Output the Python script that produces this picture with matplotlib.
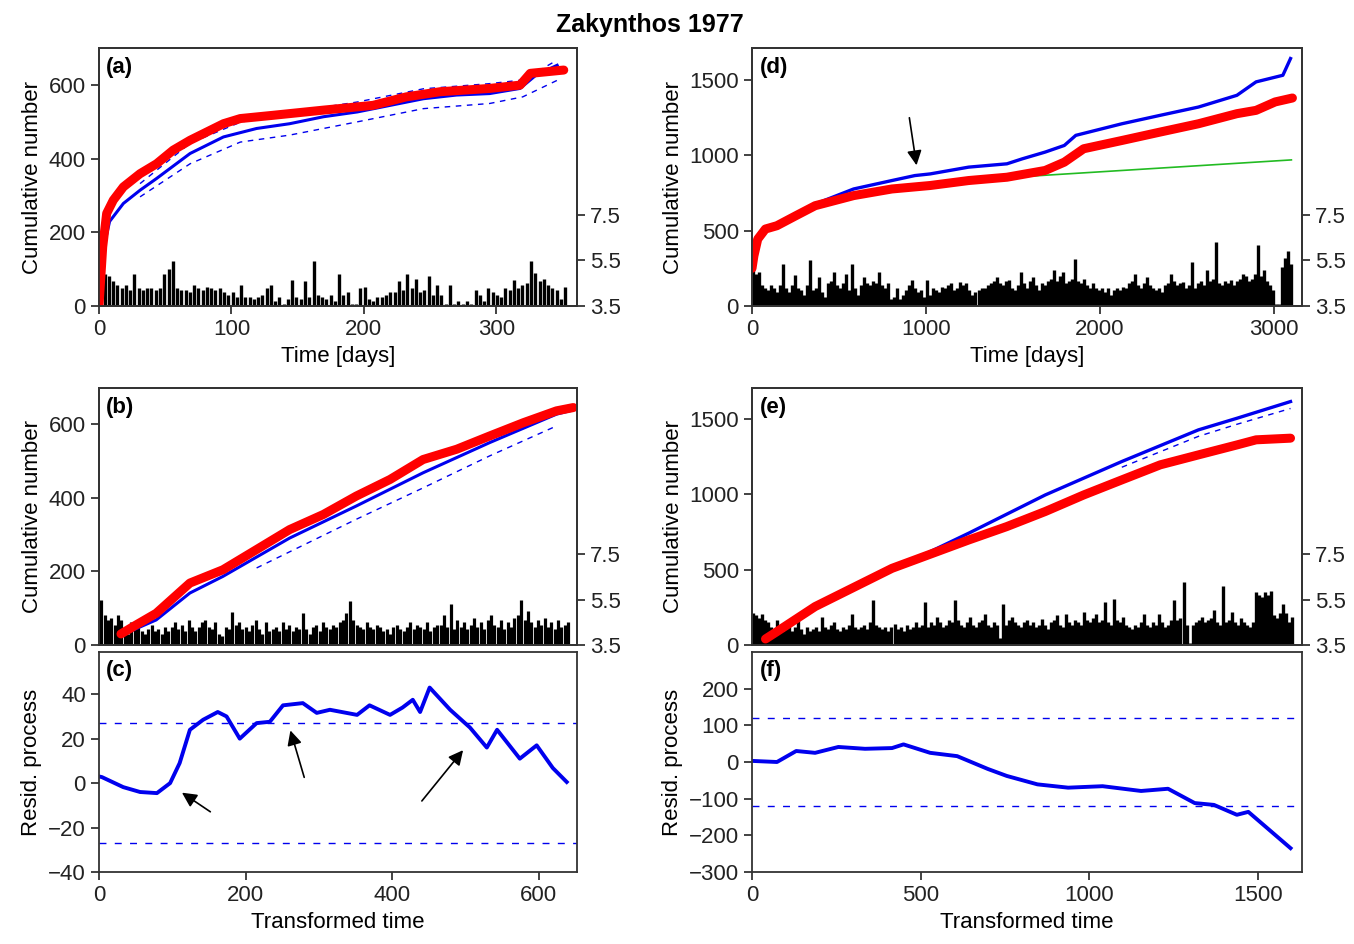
import numpy as np
import matplotlib
matplotlib.use('Agg')
import matplotlib.pyplot as plt

plt.rcParams['font.family'] = ['Liberation Sans', 'DejaVu Sans']
plt.rcParams['font.size'] = 16

# ---- panel (a): cumulative number vs time [days]
a_red_t = [0, 2.8, 5.8, 10.8, 18.4, 31, 43.5, 56, 68.8, 94, 106.7, 131.8, 169.6, 207, 232, 257.6, 295, 318, 325.7, 351]
a_red_n = [0, 161, 252, 288, 324, 360, 387, 424, 451, 496, 510, 519, 533, 546, 569, 583, 592, 601, 633, 642]
a_blue_t = [0, 3, 8, 18.4, 31, 43.5, 68.8, 94, 119, 144, 169.6, 195, 220, 245, 270, 295, 318, 330, 346]
a_blue_n = [0, 150, 230, 279, 315, 347, 415, 460, 483, 496, 515, 528, 546, 564, 574, 578, 592, 628, 655]
a_lo_t = [31, 68.8, 106.7, 144, 195, 245, 295, 320, 346]
a_lo_n = [297, 387, 446, 465, 501, 537, 551, 569, 614]
a_hi_t = [31, 68.8, 106.7, 144, 195, 245, 295, 320, 346]
a_hi_n = [333, 443, 500, 527, 555, 591, 605, 615, 669]
a_mag = [5.0, 4.9, 4.8, 4.6, 4.4, 4.3, 4.4, 4.2, 4.9, 4.3, 4.2, 4.3, 4.3, 4.2, 4.3, 4.9,
         5.1, 5.45, 4.3, 4.2, 4.2, 4.1, 4.4, 4.3, 4.2, 4.35, 4.3, 4.2, 4.3, 4.1, 4.0, 4.1,
         3.9, 4.4, 3.9, 3.9, 3.8, 3.9, 4.0, 4.3, 4.4, 3.7, 3.9, 3.6, 3.8, 4.65, 3.9, 3.8,
         4.6, 3.9, 5.45, 4.0, 3.9, 3.8, 4.0, 3.7, 4.9, 4.0, 4.1, 3.6, 3.6, 4.3, 4.35, 3.8,
         3.7, 3.9, 3.9, 4.0, 4.1, 4.1, 4.6, 4.2, 4.9, 4.3, 4.7, 4.1, 4.2, 4.8, 4.0, 4.4,
         4.0, 3.6, 4.4, 3.6, 3.7, 3.6, 3.7, 3.6, 4.2, 4.0, 3.7, 4.3, 4.1, 4.0, 3.9, 4.3,
         4.2, 4.65, 4.3, 4.4, 4.5, 5.45, 4.95, 4.6, 4.7, 4.4, 4.3, 4.2, 3.8, 4.35]

# ---- panel (b): cumulative number vs transformed time
b_red_t = [30, 46.8, 78, 124, 169, 215, 260, 306, 351, 397, 442, 488, 533, 579, 624, 647]
b_red_n = [30, 50, 86, 168, 204, 259, 313, 354, 404, 449, 503, 531, 567, 603, 635, 644]
b_blue_t = [40, 78, 124, 169, 260, 351, 442, 533, 624, 642]
b_blue_n = [35, 68, 141, 186, 290, 377, 467, 549, 626, 635]
b_lo_t = [215, 351, 442, 533, 624]
b_lo_n = [209, 341, 426, 513, 594]
b_mag = [5.5, 4.8, 4.6, 4.7, 4.4, 4.8, 4.6, 4.3, 4.0, 4.5, 4.2,
         4.3, 4.1, 4.0, 4.2, 4.4, 4.1, 4.2, 4.0, 4.3, 4.1,
         4.3, 4.5, 4.2, 4.4, 4.1, 4.6, 4.3, 4.1, 4.3, 4.5,
         4.6, 4.3, 4.2, 4.5, 4.0, 3.9, 4.3, 4.2, 4.95, 4.4,
         4.5, 4.2, 4.3, 4.1, 4.4, 4.6, 4.2, 4.0, 4.5, 4.1,
         4.2, 4.3, 4.1, 4.5, 4.2, 4.4, 4.1, 4.3, 4.2, 4.9,
         4.2, 4.0, 4.3, 4.4, 4.1, 4.5, 4.3, 4.2, 4.4, 4.3,
         4.5, 4.6, 4.9, 5.45, 4.6, 4.4, 4.3, 4.2, 4.5, 4.3,
         4.2, 4.4, 4.3, 4.1, 4.2, 4.0, 4.3, 4.4, 4.2, 4.1,
         4.3, 4.5, 4.2, 4.4, 4.3, 4.2, 4.5, 4.1, 4.3, 4.4,
         4.4, 4.8, 4.3, 5.3, 4.2, 4.6, 4.3, 4.5, 4.2, 4.4,
         4.7, 4.3, 4.5, 4.2, 4.6, 4.8, 4.4, 4.3, 4.6, 4.2,
         4.5, 4.3, 4.7, 4.8, 5.5, 4.6, 5.0, 4.5, 4.3, 4.6,
         4.4, 4.7, 4.3, 4.5, 4.2, 4.6, 4.3, 4.4, 4.5]

# ---- panel (c): residual process
c_t = [0, 4, 33, 56, 79, 97, 110, 124, 142, 162, 174, 192, 215, 233, 251, 278, 297, 315,
       352, 369, 397, 414, 428, 438, 451, 479, 506, 529, 543, 574, 597, 619, 638]
c_r = [3, 2.7, -1.8, -4, -4.5, 0, 9, 24, 28.5, 32, 30, 20, 27, 27.6, 35, 36, 31.6, 33,
       30.7, 35, 30.7, 34, 37.5, 32, 43, 33, 25, 16, 24, 11, 17, 6.8, 0.5]
c_band = 27

# ---- panel (d): cumulative number vs time [days]
d_red_t = [0, 11, 33, 77, 143, 253, 363, 584, 804, 1024, 1245, 1465, 1685, 1795, 1906,
           2126, 2346, 2566, 2787, 2897, 3007, 3106]
d_red_n = [250, 333, 444, 511, 533, 600, 666, 733, 777, 800, 833, 855, 900, 955, 1044,
           1099, 1155, 1210, 1277, 1299, 1355, 1381]
d_blue_t = [0, 11, 33, 77, 143, 253, 363, 584, 804, 936, 1024, 1245, 1465, 1553, 1685,
            1795, 1861, 2126, 2346, 2566, 2787, 2897, 3051, 3095]
d_blue_n = [250, 333, 444, 511, 533, 600, 677, 777, 833, 866, 877, 922, 944, 977, 1022,
            1066, 1133, 1210, 1266, 1321, 1399, 1488, 1532, 1643]
d_green_t = [1600, 3100]
d_green_n = [862, 970]
d_mag = [5.1, 4.9, 5.0, 4.4, 4.3, 4.2, 4.4, 4.3, 4.1, 4.4, 5.36, 4.3, 4.1, 4.4, 4.85, 4.3,
         4.2, 4.0, 4.4, 5.5, 4.2, 4.3, 4.78, 4.1, 3.9, 4.5, 4.6, 4.99, 4.4, 4.3, 4.5, 4.92,
         4.2, 5.36, 4.3, 4.0, 4.4, 4.78, 4.5, 4.4, 4.6, 4.5, 4.99, 4.4, 4.3, 4.49, 3.8, 3.9,
         4.27, 3.8, 4.0, 4.2, 4.4, 4.63, 4.3, 4.1, 4.2, 3.9, 4.63, 4.0, 4.3, 4.2, 4.1, 4.34,
         4.3, 4.4, 4.5, 4.2, 4.3, 4.56, 4.4, 4.49, 4.2, 4.0, 4.1, 4.2, 4.27, 4.3, 4.4, 4.5,
         4.6, 4.78, 4.5, 4.4, 4.6, 4.63, 4.3, 4.2, 4.4, 4.99, 4.5, 4.3, 4.6, 4.78, 4.4, 4.2,
         4.5, 4.4, 4.6, 4.7, 5.07, 4.6, 4.8, 4.99, 4.5, 4.6, 4.7, 5.57, 4.6, 4.5, 4.7, 4.4,
         4.3, 4.49, 4.3, 4.2, 4.3, 4.1, 4.27, 4.0, 4.2, 4.3, 4.2, 4.34, 4.3, 4.5, 4.6, 4.92,
         4.4, 4.3, 4.5, 4.78, 4.4, 4.27, 4.2, 4.3, 4.1, 4.4, 4.5, 4.92, 4.6, 4.4, 4.5, 4.56,
         4.3, 4.4, 5.43, 4.3, 4.5, 4.6, 4.4, 5.07, 4.6, 4.7, 6.3, 4.5, 4.4, 4.6, 4.5, 4.63,
         4.4, 4.6, 4.7, 4.92, 4.8, 4.6, 4.7, 4.9, 6.15, 4.8, 5.07, 4.6, 4.4, 4.2, 3.6, 3.6,
         5.2, 5.6, 5.93, 5.36]

# ---- panel (e): cumulative number vs transformed time
e_red_t = [40, 74, 187, 415, 642, 755, 869, 983, 1096, 1210, 1323, 1437, 1494, 1596]
e_red_n = [40, 89, 255, 509, 697, 786, 886, 996, 1096, 1196, 1262, 1328, 1362, 1373]
e_blue_t = [40, 74, 187, 415, 642, 869, 1096, 1323, 1437, 1596]
e_blue_n = [35, 77, 255, 498, 742, 996, 1218, 1428, 1505, 1616]
e_lo_t = [1096, 1323, 1437, 1596]
e_lo_n = [1180, 1385, 1465, 1570]
e_mag = [4.9, 4.8, 4.7, 4.88, 4.6, 4.5, 4.3, 4.2, 4.59, 4.3, 4.1, 4.2, 4.4, 4.1, 4.3, 4.65,
         4.2, 4.0, 4.3, 4.1, 4.2, 4.3, 4.1, 4.73, 4.3, 4.2, 4.4, 4.52, 4.2, 4.1, 4.3, 4.2,
         4.4, 4.88, 4.3, 4.2, 4.3, 4.4, 4.2, 4.5, 5.46, 4.4, 4.3, 4.2, 4.3, 4.1, 4.3, 4.44,
         4.2, 4.3, 4.1, 4.4, 4.2, 4.3, 4.5, 4.3, 4.4, 5.38, 4.3, 4.5, 4.4, 4.73, 4.5, 4.3,
         4.4, 4.6, 4.5, 5.46, 4.6, 4.4, 4.3, 4.5, 4.73, 4.4, 4.3, 4.5, 4.6, 4.88, 4.4, 4.3,
         4.5, 4.4, 3.8, 5.31, 4.4, 4.6, 4.73, 4.5, 4.4, 4.3, 4.5, 4.59, 4.4, 4.5, 4.3, 4.4,
         4.65, 4.4, 4.2, 4.5, 4.6, 4.8, 4.4, 4.3, 4.88, 4.5, 4.4, 4.6, 4.5, 4.4, 4.95, 4.6,
         4.5, 4.7, 4.88, 4.5, 4.6, 5.38, 4.5, 4.4, 5.53, 4.6, 4.5, 4.73, 4.4, 4.3, 4.2, 4.4,
         4.3, 4.5, 4.88, 4.4, 4.3, 4.5, 4.4, 4.88, 4.5, 4.3, 4.4, 4.6, 5.46, 4.6, 4.7, 6.25,
         4.4, 3.6, 4.4, 4.5, 4.6, 4.73, 4.5, 4.6, 4.7, 5.02, 4.5, 4.4, 6.1, 4.5, 4.6, 4.95,
         4.5, 4.4, 4.7, 4.5, 4.4, 4.3, 4.5, 5.82, 5.7, 5.6, 5.82, 5.7, 5.89, 4.8, 4.7, 4.9,
         5.31, 4.9, 4.5, 4.73]

# ---- panel (f): residual process
f_t = [0, 74, 131, 187, 256, 335, 415, 449, 528, 608, 699, 755, 846, 937, 1039, 1153,
       1233, 1312, 1369, 1437, 1471, 1596]
f_r = [3, 0, 30, 25, 41, 36, 38, 48, 25, 16, -19, -38, -61, -70, -66, -79, -73, -112,
       -117, -144, -136, -235]
f_band = 120

W, H = 1354, 944
fig = plt.figure(figsize=(W / 100, H / 100), dpi=100)


def box(l, r, t, b):
    return [l / W, 1 - b / H, (r - l) / W, (b - t) / H]


def style(ax):
    for s in ax.spines.values():
        s.set_linewidth(1.3)
        s.set_color('#333333')
    ax.tick_params(direction='out', length=6, width=1.2, labelsize=16, colors='#222222')


def mag_axis(ax, xs, mags, lw):
    ax2 = ax.twinx()
    ax2.vlines(xs, 3.5, mags, color='black', lw=lw)
    ax2.set_ylim(3.5, 14.8)
    ax2.set_yticks([3.5, 5.5, 7.5])
    ax2.set_yticklabels(['3.5', '5.5', '7.5'])
    style(ax2)
    ax.set_zorder(ax2.get_zorder() + 1)
    ax.patch.set_visible(False)
    return ax2


def panel_label(ax, s):
    ax.text(0.015, 0.965, s, transform=ax.transAxes, ha='left', va='top',
            fontsize=16, fontweight='bold')


RED = '#ff0000'
BLUE = '#0000ee'
red_kw = dict(color=RED, lw=6.5, solid_capstyle='round', solid_joinstyle='round')

ax_a = fig.add_axes(box(99, 577, 48, 306))
ax_b = fig.add_axes(box(99, 577, 388, 645))
ax_c = fig.add_axes(box(99, 577, 652, 872))
ax_d = fig.add_axes(box(752, 1302, 48, 306))
ax_e = fig.add_axes(box(752, 1302, 388, 645))
ax_f = fig.add_axes(box(752, 1302, 652, 872))

# (a)
style(ax_a)
mag_axis(ax_a, np.linspace(1, 352, len(a_mag)), a_mag, 2.4)
ax_a.plot(a_lo_t, a_lo_n, color=BLUE, lw=1, dashes=(4, 4))
ax_a.plot(a_hi_t, a_hi_n, color=BLUE, lw=1, dashes=(4, 4))
ax_a.plot(a_blue_t, a_blue_n, color=BLUE, lw=2.2)
ax_a.plot(a_red_t, a_red_n, **red_kw)
ax_a.set_xlim(0, 361)
ax_a.set_ylim(0, 702)
ax_a.set_xticks([0, 100, 200, 300])
ax_a.set_yticks([0, 200, 400, 600])
ax_a.set_xlabel('Time [days]')
ax_a.set_ylabel('Cumulative number')
panel_label(ax_a, '(a)')

# (b)
style(ax_b)
mag_axis(ax_b, np.linspace(3, 640, len(b_mag)), b_mag, 2.3)
ax_b.plot(b_lo_t, b_lo_n, color=BLUE, lw=1, dashes=(4, 4))
ax_b.plot(b_blue_t, b_blue_n, color=BLUE, lw=2.2)
ax_b.plot(b_red_t, b_red_n, **red_kw)
ax_b.set_xlim(0, 652)
ax_b.set_ylim(0, 697)
ax_b.set_yticks([0, 200, 400, 600])
ax_b.tick_params(axis='x', bottom=False, labelbottom=False)
ax_b.set_ylabel('Cumulative number')
panel_label(ax_b, '(b)')

# (c)
style(ax_c)
ax_c.axhline(c_band, color=BLUE, lw=1, dashes=(5, 6))
ax_c.axhline(-c_band, color=BLUE, lw=1, dashes=(5, 6))
ax_c.plot(c_t, c_r, color=BLUE, lw=2.8)
ax_c.set_xlim(0, 652)
ax_c.set_ylim(-40, 59)
ax_c.set_xticks([0, 200, 400, 600])
ax_c.set_yticks([-40, -20, 0, 20, 40])
ax_c.set_xlabel('Transformed time')
ax_c.set_ylabel('Resid. process')
panel_label(ax_c, '(c)')
arrow = dict(arrowstyle='-|>', color='black', lw=1.2, mutation_scale=22)
ax_c.annotate('', xy=(110, -3.6), xytext=(155, -13.6), arrowprops=arrow)
ax_c.annotate('', xy=(260, 24.9), xytext=(281, 1.4), arrowprops=arrow)
ax_c.annotate('', xy=(499, 15.8), xytext=(438, -9), arrowprops=arrow)

# (d)
style(ax_d)
mag_axis(ax_d, np.linspace(5, 3100, len(d_mag)), d_mag, 2.4)
ax_d.plot(d_green_t, d_green_n, color='#22bb22', lw=1.2)
ax_d.plot(d_blue_t, d_blue_n, color=BLUE, lw=2.4)
ax_d.plot(d_red_t, d_red_n, **red_kw)
ax_d.set_xlim(0, 3161)
ax_d.set_ylim(0, 1713)
ax_d.set_xticks([0, 1000, 2000, 3000])
ax_d.set_yticks([0, 500, 1000, 1500])
ax_d.set_xlabel('Time [days]')
ax_d.set_ylabel('Cumulative number')
panel_label(ax_d, '(d)')
ax_d.annotate('', xy=(948, 916), xytext=(902, 1268), arrowprops=arrow)

# (e)
style(ax_e)
mag_axis(ax_e, np.linspace(3, 1600, len(e_mag)), e_mag, 2.4)
ax_e.plot(e_lo_t, e_lo_n, color=BLUE, lw=1, dashes=(4, 4))
ax_e.plot(e_blue_t, e_blue_n, color=BLUE, lw=2.4)
ax_e.plot(e_red_t, e_red_n, **red_kw)
ax_e.set_xlim(0, 1630)
ax_e.set_ylim(0, 1706)
ax_e.set_yticks([0, 500, 1000, 1500])
ax_e.tick_params(axis='x', bottom=False, labelbottom=False)
ax_e.set_ylabel('Cumulative number')
panel_label(ax_e, '(e)')

# (f)
style(ax_f)
ax_f.axhline(f_band, color=BLUE, lw=1, dashes=(5, 6))
ax_f.axhline(-f_band, color=BLUE, lw=1, dashes=(5, 6))
ax_f.plot(f_t, f_r, color=BLUE, lw=2.8)
ax_f.set_xlim(0, 1630)
ax_f.set_ylim(-300, 300)
ax_f.set_xticks([0, 500, 1000, 1500])
ax_f.set_yticks([-300, -200, -100, 0, 100, 200])
ax_f.set_xlabel('Transformed time')
ax_f.set_ylabel('Resid. process')
panel_label(ax_f, '(f)')

fig.text(0.48, 0.9735, 'Zakynthos 1977', ha='center', va='center',
         fontsize=18, fontweight='bold')

fig.savefig('out.png', dpi=100)
